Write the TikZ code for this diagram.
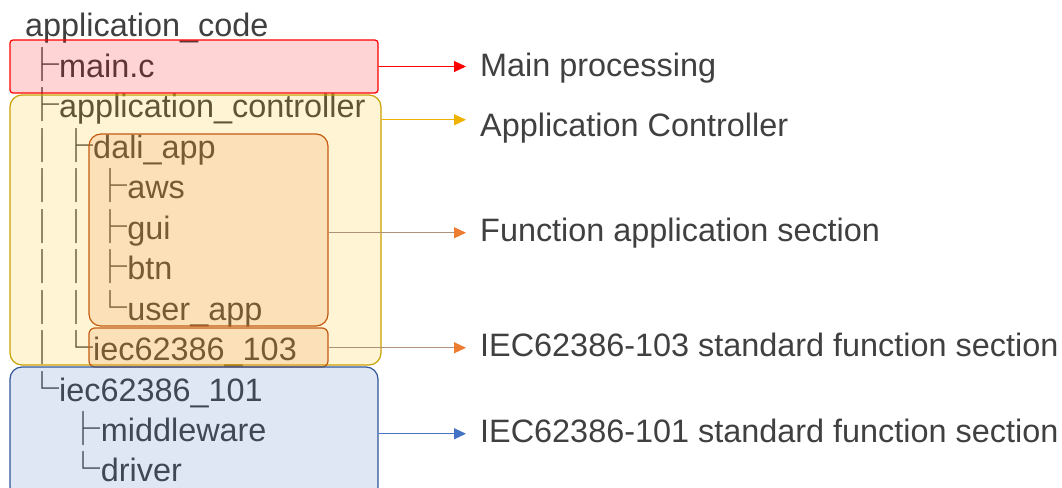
\documentclass[tikz,border=0pt]{standalone}
\usepackage{fontspec}
\setmainfont{Liberation Sans}
\newfontfamily\cjk[Scale=1.05]{Noto Sans CJK JP}
\usetikzlibrary{arrows.meta}
\definecolor{txt}{RGB}{64,64,64}
\definecolor{redline}{RGB}{255,0,0}
\definecolor{goldline}{RGB}{200,160,0}
\definecolor{gold}{RGB}{255,192,0}
\definecolor{goldarrow}{RGB}{240,178,0}
\definecolor{orangeline}{RGB}{197,90,17}
\definecolor{accorange}{RGB}{237,125,49}
\definecolor{brownline}{RGB}{176,145,124}
\definecolor{blueline}{RGB}{47,85,151}
\definecolor{accblue}{RGB}{68,114,196}

\begin{document}
\begin{tikzpicture}[x=1pt, y=-1pt, font=\fontsize{32.4}{40}\selectfont,
	row/.style = {anchor=base west, inner sep=0pt, text=txt},
	lbl/.style = {anchor=base west, inner xsep=14pt, inner ysep=0pt, text height=23.3pt, text depth=6.8pt, text=txt},
	box/.style = {rectangle, inner sep=0pt, line width=1.2pt, fill opacity=0.17, rounded corners=12pt},
	conn/.style = {line width=1.1pt, -{Triangle[length=12pt, width=11pt]}},
	orangeconn/.style = {line width=1.1pt, brownline, -{Triangle[length=12pt, width=11pt, color=accorange]}}]
	\useasboundingbox (0,0) rectangle (1062,487);
	% directory tree
	\node[row] (code) at (25,37) {application\_code};
	\node[row] (main) at (25,77.45) {{\cjk ├}main.c};
	\node[row] (ctrl) at (25,117.9) {{\cjk ├}application\_controller};
	\node[row] (dali) at (25,158.35) {{\cjk │├}dali\_app};
	\node[row] (aws) at (25,198.8) {{\cjk ││├}aws};
	\node[row] (gui) at (25,239.25) {{\cjk ││├}gui};
	\node[row] (btn) at (25,279.7) {{\cjk ││├}btn};
	\node[row] (user) at (25,320.15) {{\cjk ││└}user\_app};
	\node[row] (iec103) at (25,360.6) {{\cjk │└}iec62386\_103};
	\node[row] (iec101) at (25,401.05) {{\cjk └}iec62386\_101};
	\node[row] (mw) at (25,441.5) {{\cjk 　\ ├}middleware};
	\node[row] (drv) at (25,481.95) {{\cjk 　\ └}driver};
	% sections
	\node[box, draw=redline, fill=red, rounded corners=3pt, minimum width=368pt, minimum height=53pt] (mainbox) at (194,66.5) {};
	\node[box, draw=goldline, fill=gold, minimum width=371pt, minimum height=270pt] (ctrlbox) at (195.5,230) {};
	\node[box, draw=orangeline, fill=accorange, minimum width=239pt, minimum height=192pt] (dalibox) at (208.5,230) {};
	\node[box, draw=orangeline, fill=accorange, rounded corners=6pt, minimum width=239pt, minimum height=39pt] (iec103box) at (208.5,347.5) {};
	\node[box, draw=blueline, fill=accblue, minimum width=368pt, minimum height=132pt] (iec101box) at (194,433) {};
	% labels
	\node[lbl] (mainlbl) at (466,76) {Main processing};
	\node[lbl] (ctrllbl) at (466,136) {Application Controller};
	\node[lbl] (funclbl) at (466,241) {Function application section};
	\node[lbl] (stdlbl) at (466,356) {IEC62386-103 standard function section};
	\node[lbl] (baselbl) at (466,442) {IEC62386-101 standard function section};
	\coordinate (ctrltip) at ([yshift=8pt]ctrllbl.west);
	\draw[conn, redline] (mainbox.east) -- (mainbox.east -| mainlbl.west);
	\draw[conn, goldarrow] (ctrltip -| ctrlbox.east) -- (ctrltip);
	\draw[orangeconn] (funclbl.west -| dalibox.east) -- (funclbl.west);
	\draw[orangeconn] (stdlbl.west -| iec103box.east) -- (stdlbl.west);
	\draw[conn, accblue] (baselbl.west -| iec101box.east) -- (baselbl.west);
\end{tikzpicture}
\end{document}
